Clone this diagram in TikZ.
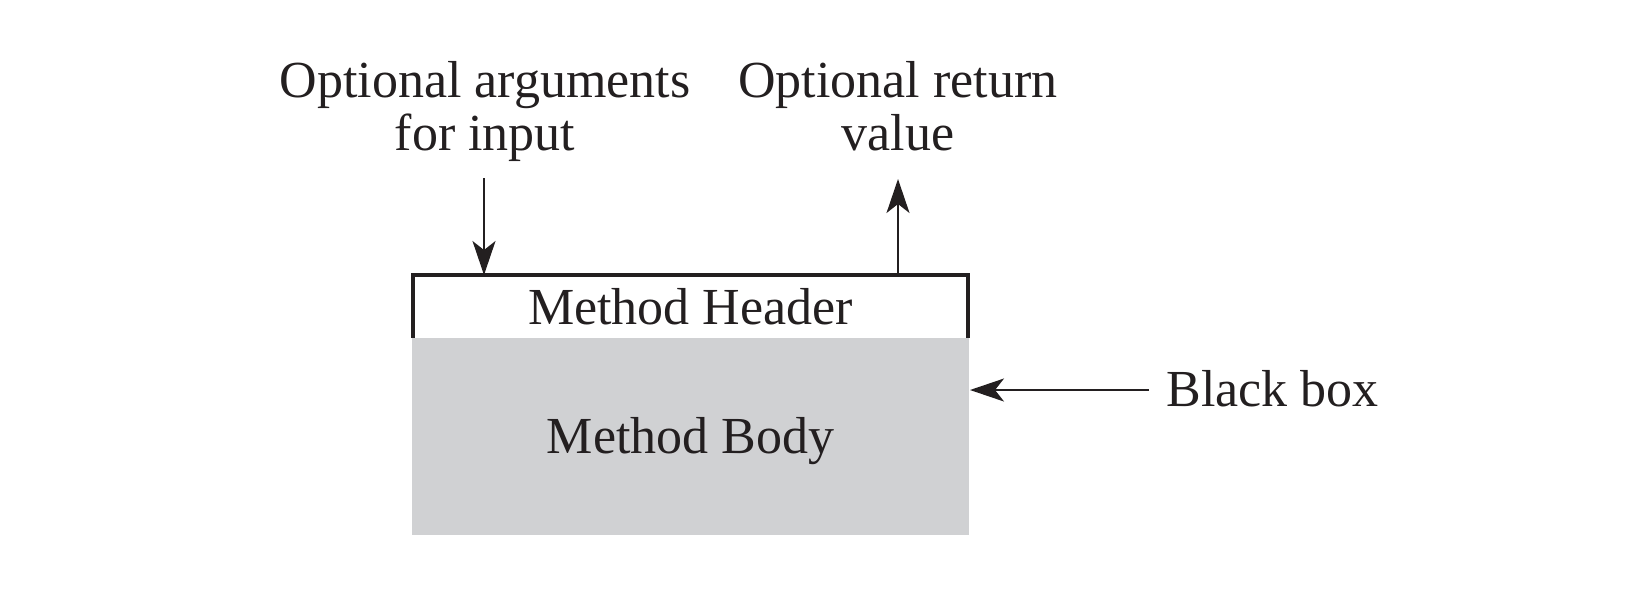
\documentclass[tikz,border=0pt]{standalone}
\usepackage{fontspec}
\setmainfont{Liberation Serif}
\usetikzlibrary{arrows.meta}
\definecolor{bodygray}{HTML}{D0D1D3}
\definecolor{ink}{HTML}{231F20}
\tikzset{
  lbl/.style={inner sep=0pt, anchor=base, text=ink, font=\fontsize{26}{26.5}\selectfont, align=center},
  hdr/.style={draw=ink, line width=1.65pt},
  arr/.style={draw=ink, line width=0.85pt, -{Stealth[length=17pt, width=11.5pt, inset=4.5pt]}}
}
\begin{document}
\begin{tikzpicture}[x=0.5pt, y=-0.5pt]
\useasboundingbox (0,0) rectangle (1648,596);
% body
\fill[bodygray] (412,338) rectangle (969,535);
\node[lbl] (body) at (690.5,453) {Method Body};
% header
\draw[hdr] (413,338) -- (413,275) -- (968,275) -- (968,338);
\node[lbl] (header) at (690.5,324) {Method Header};
% labels
\node[lbl] (args) at (485,150) {Optional arguments\\for input};
\node[lbl] (ret) at (898,150) {Optional return\\value};
\node[lbl, anchor=base west] (bbox) at (1166,406) {Black box};
% connector end points
\coordinate (argsfrom) at (484,178);
\coordinate (argsto) at (484,275);
\coordinate (retfrom) at (898,275);
\coordinate (retto) at (898,179);
\coordinate (bbfrom) at (1149,390);
\coordinate (bbto) at (970,390);
\draw[arr] (argsfrom) -- (argsto);
\draw[arr] (retfrom) -- (retto);
\draw[arr] (bbfrom) -- (bbto);
\end{tikzpicture}
\end{document}
